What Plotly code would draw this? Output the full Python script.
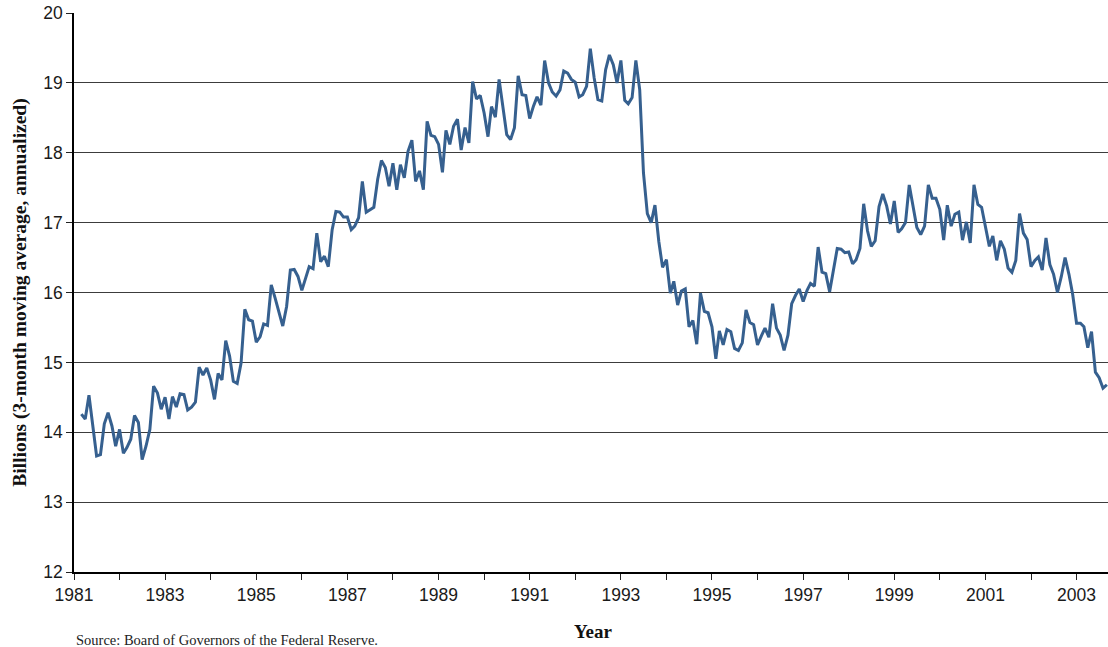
import pandas as pd
import plotly.graph_objects as go

# monthly values, Mar 1981 - Sep 2003 (billions, 3-month moving average, annualized)
start_month = "1981-03-01"
values_1981_1985 = [
    14.26, 14.19, 14.53, 14.10, 13.66, 13.68, 14.12, 14.28, 14.09, 13.80,
    14.04, 13.70, 13.78, 13.90, 14.24, 14.14, 13.61, 13.80, 14.04, 14.66,
    14.56, 14.33, 14.50, 14.19, 14.51, 14.36, 14.55, 14.54, 14.32, 14.36,
    14.43, 14.93, 14.82, 14.92, 14.75, 14.47, 14.84, 14.75, 15.31, 15.09,
    14.73, 14.70, 14.99, 15.76, 15.61, 15.59, 15.29,
]
values_1985_1988 = [
    15.37, 15.55, 15.53, 16.11, 15.92, 15.71, 15.52, 15.80, 16.32, 16.33,
    16.23, 16.03, 16.21, 16.37, 16.34, 16.85, 16.44, 16.52, 16.37, 16.90,
    17.16, 17.15, 17.08, 17.08, 16.90, 16.95, 17.07, 17.59, 17.15, 17.19,
    17.22, 17.62, 17.89, 17.79, 17.52, 17.85, 17.47, 17.83, 17.64, 18.02,
    18.18, 17.59, 17.74, 17.47,
]
values_1988_1993 = [
    18.45, 18.25, 18.23, 18.12, 17.72, 18.32, 18.12, 18.38, 18.48, 18.04,
    18.36, 18.14, 19.02, 18.77, 18.82, 18.57, 18.23, 18.66, 18.51, 19.05,
    18.62, 18.26, 18.19, 18.36, 19.10, 18.83, 18.82, 18.49, 18.67, 18.80,
    18.68, 19.32, 19.00, 18.87, 18.81, 18.90, 19.17, 19.14, 19.05, 19.01,
    18.80, 18.83, 18.95, 19.49, 19.07, 18.76, 18.74, 19.19, 19.40, 19.26,
    19.00, 19.32, 18.75, 18.70, 18.79, 19.32, 18.90, 17.71,
]
values_1993_1997 = [
    17.13, 17.00, 17.25, 16.73, 16.36, 16.47, 15.99, 16.16, 15.82, 16.02,
    16.05, 15.51, 15.60, 15.26, 15.99, 15.73, 15.71, 15.51, 15.05, 15.45,
    15.25, 15.47, 15.44, 15.20, 15.17, 15.28, 15.75, 15.57, 15.54, 15.25,
    15.38, 15.49, 15.36, 15.84, 15.49, 15.39, 15.17, 15.39, 15.84, 15.96,
    16.05, 15.87, 16.03, 16.13, 16.09,
]
values_1997_2001 = [
    16.65, 16.29, 16.27, 16.01, 16.35, 16.63, 16.62, 16.57, 16.58, 16.41,
    16.47, 16.63, 17.27, 16.88, 16.66, 16.74, 17.23, 17.41, 17.24, 16.98,
    17.31, 16.86, 16.91, 17.00, 17.54, 17.24, 16.93, 16.83, 16.95, 17.54,
    17.35, 17.35, 17.19, 16.75, 17.25, 16.95, 17.12, 17.15, 16.75, 17.01,
    16.71, 17.54, 17.26, 17.22, 16.93, 16.66,
]
values_2001_2003 = [
    16.81, 16.46, 16.74, 16.62, 16.35, 16.29, 16.46, 17.13, 16.85, 16.76,
    16.37, 16.46, 16.51, 16.32, 16.78, 16.40, 16.26, 16.00, 16.23, 16.50,
    16.26, 15.97, 15.56, 15.56, 15.51, 15.21, 15.44, 14.86, 14.78, 14.63, 14.68,
]

tick_years = list(range(1981, 2004))
y_ticks = list(range(12, 21))

values = (values_1981_1985 + values_1985_1988 + values_1988_1993
          + values_1993_1997 + values_1997_2001 + values_2001_2003)
months = pd.date_range(start_month, periods=len(values), freq="MS")

fig = go.Figure()
fig.add_trace(go.Scatter(x=months, y=values, mode="lines",
                         line=dict(color="#36608f", width=3), showlegend=False,
                         cliponaxis=False))

# label every second year, tick every year
tick_vals = [pd.Timestamp(f"{y}-01-01") for y in tick_years]
tick_text = [str(y) if (y - 1981) % 2 == 0 else "" for y in tick_years]

fig.update_xaxes(
    range=[pd.Timestamp("1981-01-01"), pd.Timestamp("2003-09-10")],
    tickvals=tick_vals, ticktext=tick_text,
    ticks="outside", ticklen=6, tickcolor="#222", tickwidth=1,
    showline=True, linecolor="#000", linewidth=1.5,
    showgrid=False, zeroline=False,
    tickfont=dict(family="Liberation Sans, Arial", size=17.5, color="#1a1a1a"),
)
fig.update_yaxes(
    range=[12, 20], tickvals=y_ticks,
    ticks="outside", ticklen=6, tickcolor="#222", tickwidth=1,
    showline=True, linecolor="#000", linewidth=1.5,
    showgrid=True, gridcolor="#3c3c3c", gridwidth=1, zeroline=False,
    tickfont=dict(family="Liberation Sans, Arial", size=17.5, color="#1a1a1a"),
)

serif = "Liberation Serif, Times New Roman, serif"
fig.add_annotation(text="<b>Billions (3-month moving average, annualized)</b>",
                   xref="paper", yref="paper", x=-0.053, y=0.5, textangle=-90,
                   showarrow=False, xanchor="center", yanchor="middle",
                   font=dict(family=serif, size=19.5, color="#111"))
fig.add_annotation(text="<b>Year</b>", xref="paper", yref="paper", x=0.502, y=-0.107,
                   showarrow=False, xanchor="center", yanchor="middle",
                   font=dict(family=serif, size=19, color="#111"))
fig.add_annotation(text="Source: Board of Governors of the Federal Reserve.",
                   xref="paper", yref="paper", x=0.0, y=-0.121,
                   showarrow=False, xanchor="left", yanchor="middle",
                   font=dict(family=serif, size=14.5, color="#222"))

fig.update_layout(
    width=1108, height=647,
    margin=dict(l=74, r=0, t=13, b=75),
    plot_bgcolor="white", paper_bgcolor="white",
)

# drop the browser's default page margin so the figure fills the window
fig.write_html("out.html", config={"displayModeBar": False},
               post_script="document.body.style.margin='0';document.body.style.overflow='hidden';")
